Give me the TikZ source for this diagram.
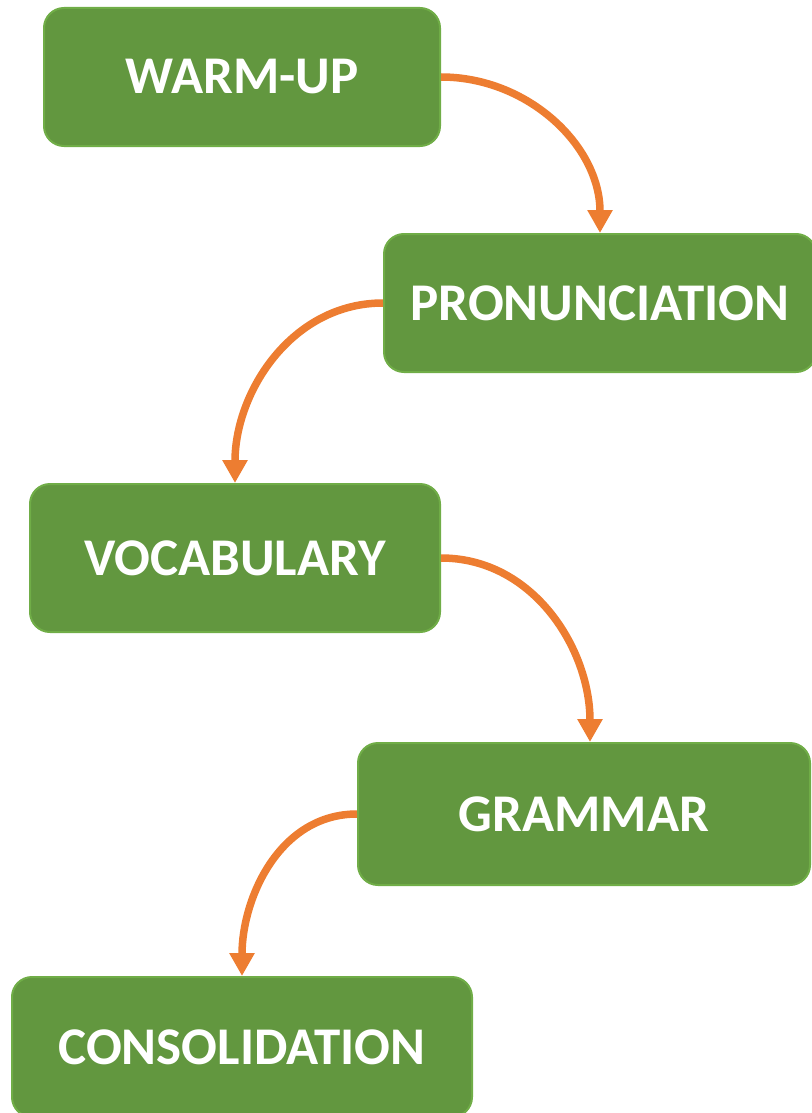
\documentclass[tikz,border=0pt]{standalone}
\usepackage{fontspec}
\setmainfont{Carlito}
\usetikzlibrary{arrows.meta}
\definecolor{boxfill}{RGB}{98,151,63}
\definecolor{boxline}{RGB}{112,173,71}
\definecolor{arrowc}{RGB}{237,125,49}
\tikzset{
  stepbox/.style={draw=boxline, line width=2pt, fill=boxfill, rounded corners=20pt,
    text=white, font=\fontsize{53}{60}\selectfont\bfseries, inner sep=0pt},
  flow/.style={draw=arrowc, line width=7.5pt, -{Triangle[width=24pt,length=23pt]}}
}
\begin{document}
\begin{tikzpicture}[x=1pt,y=-1pt]
\useasboundingbox (0,0) rectangle (811,1113);
\node[stepbox, minimum width=396pt, minimum height=138pt] (w) at (242,77) {WARM-UP};
\node[stepbox, minimum width=432pt, minimum height=138pt] (p) at (600,303) {PRONUNCIATION};
\node[stepbox, minimum width=410pt, minimum height=148pt] (v) at (235,558) {VOCABULARY};
\node[stepbox, minimum width=452pt, minimum height=142pt] (g) at (584,814) {GRAMMAR};
\node[stepbox, minimum width=460pt, minimum height=140pt] (c) at (242,1047) {CONSOLIDATION};
\coordinate (gt) at ([xshift=6pt]g.north);
\draw[flow] (w.east) to[out=0,in=90] (p.north);
\draw[flow] (p.west) to[out=180,in=90] (v.north);
\draw[flow] (v.east) to[out=0,in=90] (gt);
\draw[flow] (g.west) to[out=180,in=90] (c.north);
\end{tikzpicture}
\end{document}
